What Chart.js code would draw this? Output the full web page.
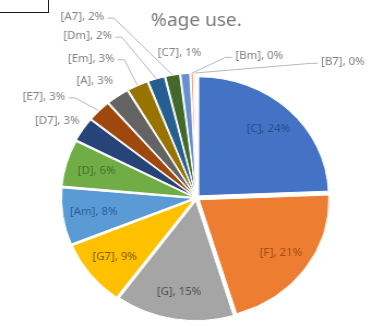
<!DOCTYPE html>
<html>
<head>
<meta charset="utf-8">
<script src="https://cdn.jsdelivr.net/npm/chart.js@4.4.0/dist/chart.umd.min.js"></script>
<style>
    html, body { margin: 0; padding: 0; background: #fff; overflow: hidden; }
    #wrap { position: absolute; left: 0; top: 0; width: 341px; height: 329px; transform: scaleX(1.091); transform-origin: 0 0; }
    #frame { position: absolute; left: -1px; top: -1px; width: 48px; height: 12px; border: 1px solid #1a1a1a; }
</style>
</head>
<body>
<div id="wrap"><canvas id="pieChart"></canvas></div>
<div id="frame"></div>
<script>
let chords = ['C', 'F', 'G', 'G7', 'Am', 'D', 'D7', 'E7', 'A', 'Em', 'Dm', 'A7', 'C7', 'Bm', 'B7'];
let usage = [24.3, 20.9, 14.6, 8.8, 7.6, 6.2, 3.2, 2.9, 2.8, 2.6, 2.1, 1.8, 1.2, 0.4, 0.3];
let sliceColors = ['#4472C4', '#ED7D31', '#A5A5A5', '#FFC000', '#5B9BD5', '#70AD47', '#264478', '#9E480E',
    '#636363', '#997300', '#255E91', '#43682B', '#698ED0', '#F1975A', '#B7B7B7'];
let labelColors = ['#284C8C', '#A24A12', '#505050', '#7A5E00', '#285F98', '#44702B'];

// where excel put the labels of the thin slices (in units of the radius, from the centre)
let outsideLabels = {
    'D7': { dx: -0.90, dy: -0.65, align: 'right' },
    'E7': { dx: -1.01, dy: -0.85, align: 'right' },
    'A':  { dx: -0.64, dy: -0.98, align: 'right' },
    'Em': { dx: -0.63, dy: -1.17, align: 'right' },
    'Dm': { dx: -0.65, dy: -1.36, align: 'right' },
    'A7': { dx: -0.71, dy: -1.52, align: 'right' },
    'C7': { dx: -0.13, dy: -1.22, align: 'center' },
    'Bm': { dx: 0.30, dy: -1.19, align: 'left' },
    'B7': { dx: 0.96, dy: -1.14, align: 'left' }
};

const sliceOffset = 12;

const pieLabels = {
    id: 'pieLabels',
    afterDatasetsDraw(chart) {
        const ctx = chart.ctx;
        const meta = chart.getDatasetMeta(0);
        const total = usage.reduce((acc, v) => acc + v, 0);
        ctx.save();
        ctx.font = '10.5px "Noto Sans"';
        ctx.textBaseline = 'middle';
        meta.data.forEach((arc, i) => {
            const p = arc.getProps(['x', 'y', 'startAngle', 'endAngle', 'outerRadius']);
            const mid = (p.startAngle + p.endAngle) / 2;
            const cos = Math.cos(mid), sin = Math.sin(mid);
            const text = '[' + chords[i] + '], ' + Math.round(usage[i] / total * 100) + '%';
            const out = outsideLabels[chords[i]];

            if (!out) {
                ctx.fillStyle = labelColors[i];
                ctx.textAlign = 'center';
                ctx.fillText(text, p.x + cos * p.outerRadius * 0.8, p.y + sin * p.outerRadius * 0.8);
                return;
            }

            const tx = p.x + out.dx * p.outerRadius;
            const ty = p.y + out.dy * p.outerRadius;
            ctx.fillStyle = '#808080';
            ctx.textAlign = out.align;
            ctx.fillText(text, tx, ty);

            // leader line from the label to the slice edge
            const edgeR = p.outerRadius + sliceOffset / 2;
            const ex = p.x + cos * edgeR, ey = p.y + sin * edgeR;
            let sx, sy, kx, ky;
            if (out.align === 'right') { sx = tx + 3; sy = ty + 1; kx = sx + 6; ky = sy; }
            else if (out.align === 'left') { sx = tx - 3; sy = ty + 1; kx = sx - 6; ky = sy; }
            else { sx = tx + 8; sy = ty + 7; kx = sx; ky = sy; }
            if (Math.hypot(ex - sx, ey - sy) < 14) return;
            ctx.strokeStyle = '#A6A6A6';
            ctx.lineWidth = 0.8;
            ctx.beginPath();
            ctx.moveTo(sx, sy);
            ctx.lineTo(kx, ky);
            ctx.lineTo(ex, ey);
            ctx.stroke();
        });
        ctx.restore();
    }
};

let ctx = document.getElementById('pieChart').getContext('2d');

let chart = new Chart(ctx, {
    type: 'pie',
    data: {
        labels: chords,
        datasets: [{
            data: usage,
            backgroundColor: sliceColors,
            borderColor: '#ffffff',
            borderWidth: 1,
            hoverBorderWidth: 1,
            offset: sliceOffset,
            hoverOffset: 0
        }]
    },
    options: {
        responsive: true,
        maintainAspectRatio: false,
        animation: false,
        events: [],
        layout: {
            padding: { left: 54.5, right: 35.5, top: 0, bottom: 5 }
        },
        plugins: {
            legend: { display: false },
            tooltip: { enabled: false },
            title: {
                display: true,
                text: '%age use.',
                color: '#7A7A7A',
                font: { family: '"Noto Sans"', size: 17.5, weight: 'normal', lineHeight: 1.2 },
                padding: { top: 11, bottom: 40 }
            }
        }
    },
    plugins: [pieLabels]
});
</script>
</body>
</html>
